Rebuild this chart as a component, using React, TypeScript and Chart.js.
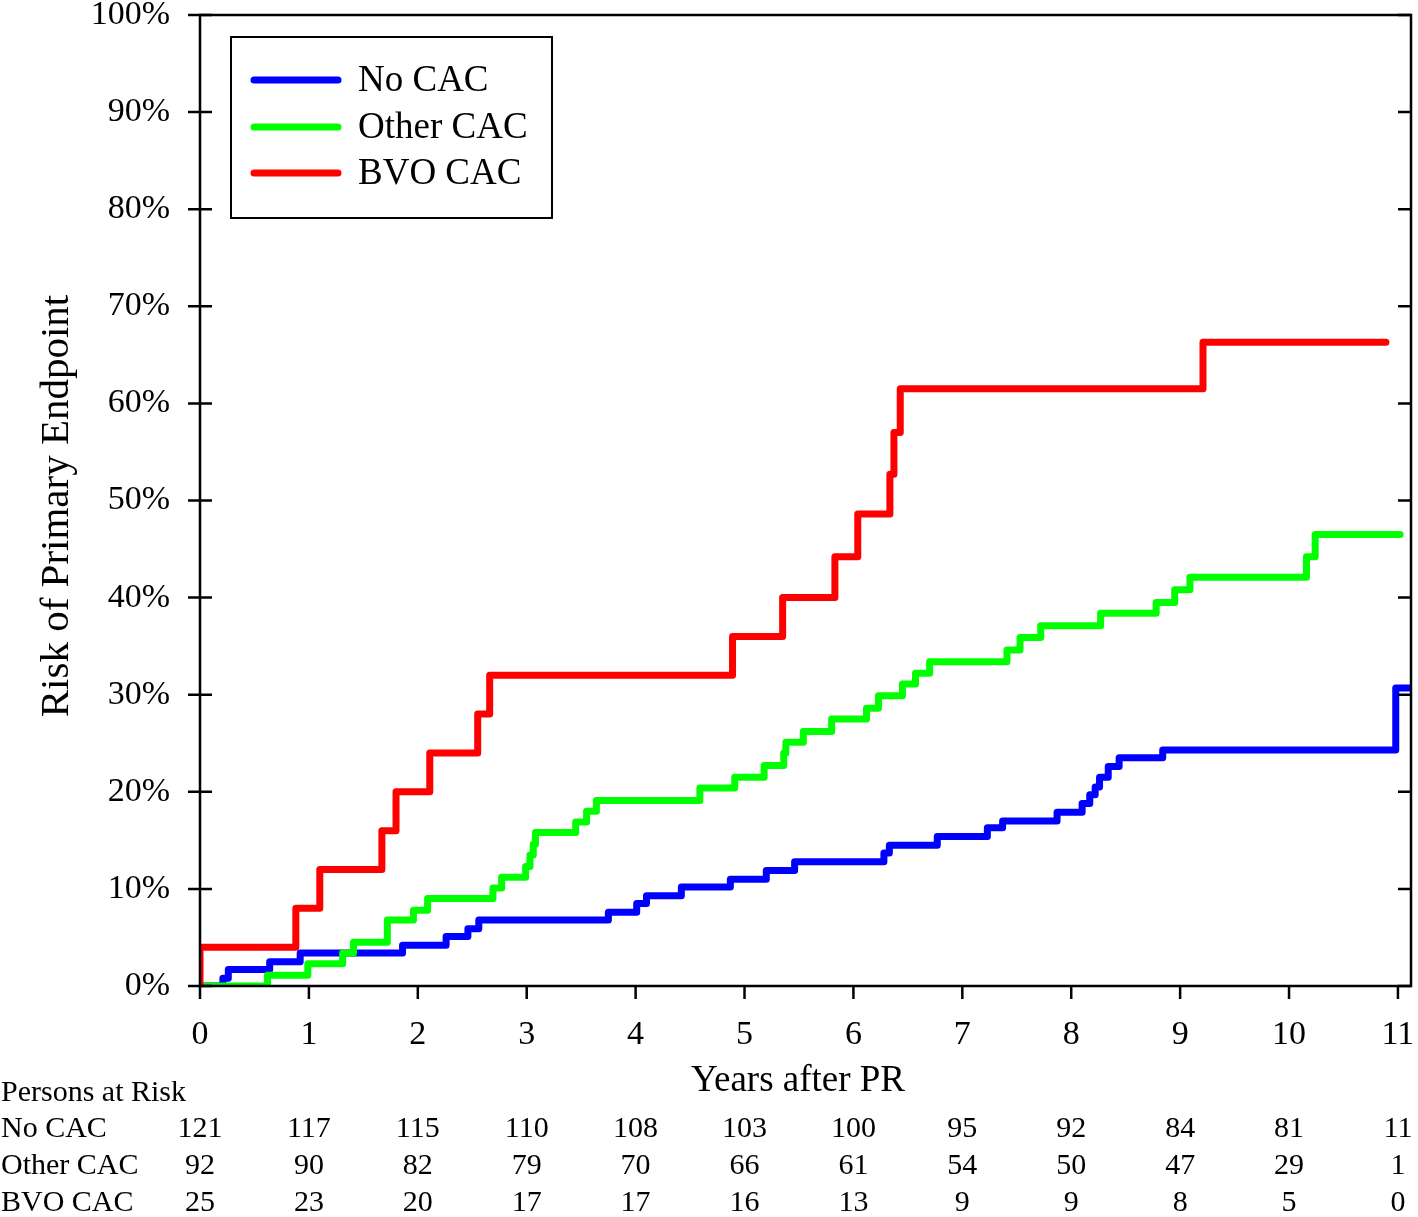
import React, { useEffect, useRef } from "react";
import { Chart, registerables } from "chart.js";

Chart.register(...registerables);

// ---- Data ----
const seriesNames = ["No CAC", "Other CAC", "BVO CAC"];
const seriesColors = ["#0000FF", "#00FF00", "#FF0000"];

const noCacTimes = [0, 0.21, 0.26, 0.64, 0.92, 1.86, 2.26, 2.46, 2.56, 3.75, 4.01, 4.1, 4.42, 4.87, 5.2, 5.46, 6.28, 6.33, 6.77, 7.23, 7.37, 7.87, 8.1, 8.17, 8.22, 8.26, 8.34, 8.44, 8.84, 10.98, 11.12];
const noCacRisk = [0, 0.8, 1.7, 2.5, 3.4, 4.2, 5.1, 5.9, 6.8, 7.6, 8.5, 9.3, 10.2, 11.0, 11.9, 12.8, 13.7, 14.5, 15.4, 16.3, 17.0, 17.9, 18.8, 19.7, 20.5, 21.5, 22.6, 23.5, 24.3, 30.7, 30.7];

const otherCacTimes = [0, 0.62, 0.99, 1.31, 1.41, 1.72, 1.96, 2.09, 2.69, 2.77, 2.99, 3.03, 3.06, 3.08, 3.45, 3.55, 3.64, 4.59, 4.91, 5.18, 5.36, 5.38, 5.54, 5.8, 6.12, 6.23, 6.45, 6.57, 6.7, 7.41, 7.53, 7.72, 8.27, 8.78, 8.95, 9.09, 10.16, 10.24, 11.02];
const otherCacRisk = [0, 1.1, 2.3, 3.4, 4.5, 6.8, 7.8, 9.0, 10.1, 11.2, 12.3, 13.5, 14.6, 15.8, 16.9, 18.0, 19.1, 20.4, 21.5, 22.7, 24.0, 25.1, 26.2, 27.5, 28.6, 29.9, 31.1, 32.2, 33.4, 34.6, 35.9, 37.1, 38.4, 39.5, 40.8, 42.1, 44.2, 46.5, 46.5];

const bvoCacTimes = [0, 0, 0.88, 1.1, 1.67, 1.8, 2.11, 2.55, 2.66, 4.89, 5.35, 5.83, 6.04, 6.335, 6.372, 6.43, 9.21, 10.89];
const bvoCacRisk = [0, 4, 8, 12, 16, 20, 24, 28, 32, 36, 40, 44.2, 48.6, 52.7, 57.0, 61.5, 66.3, 66.3];

const yearTicks = [0, 1, 2, 3, 4, 5, 6, 7, 8, 9, 10, 11];
const riskTicks = [0, 10, 20, 30, 40, 50, 60, 70, 80, 90, 100];
const atRiskNoCac = [121, 117, 115, 110, 108, 103, 100, 95, 92, 84, 81, 11];
const atRiskOtherCac = [92, 90, 82, 79, 70, 66, 61, 54, 50, 47, 29, 1];
const atRiskBvoCac = [25, 23, 20, 17, 17, 16, 13, 9, 9, 8, 5, 0];

const xTitle = "Years after PR";
const yTitle = "Risk of Primary Endpoint";
const tableTitle = "Persons at Risk";

const FONT = "'Liberation Serif', 'Times New Roman', serif";

function toPoints(t: number[], v: number[]) {
  return t.map((x, i) => ({ x, y: v[i] }));
}

const decorPlugin = {
  id: "decor",
  afterDraw(chart: any) {
    const ctx = chart.ctx;
    const xs = chart.scales.x;
    const ys = chart.scales.y;
    const ca = chart.chartArea;
    ctx.save();
    // frame
    ctx.strokeStyle = "#000";
    ctx.lineWidth = 2.5;
    ctx.beginPath();
    ctx.rect(ca.left, ca.top, ca.right - ca.left, ca.bottom - ca.top);
    ctx.stroke();
    // y ticks left (crossing) and right (inside)
    riskTicks.forEach((v) => {
      const py = ys.getPixelForValue(v);
      ctx.beginPath();
      ctx.moveTo(ca.left - 12, py);
      ctx.lineTo(ca.left + 12, py);
      ctx.moveTo(ca.right - 13, py);
      ctx.lineTo(ca.right, py);
      ctx.stroke();
    });
    // x ticks bottom (outside)
    yearTicks.forEach((v) => {
      const px = xs.getPixelForValue(v);
      ctx.beginPath();
      ctx.moveTo(px, ca.bottom);
      ctx.lineTo(px, ca.bottom + 13);
      ctx.stroke();
    });

    ctx.fillStyle = "#000";
    // x title
    ctx.font = `37px ${FONT}`;
    ctx.textAlign = "center";
    ctx.textBaseline = "middle";
    ctx.fillText(xTitle, 798, 1081);
    // y title
    ctx.save();
    ctx.translate(57, 506);
    ctx.rotate(-Math.PI / 2);
    ctx.font = `41px ${FONT}`;
    ctx.fillText(yTitle, 0, 0);
    ctx.restore();

    // risk table
    ctx.font = `30px ${FONT}`;
    ctx.textAlign = "left";
    ctx.fillText(tableTitle, 1, 1093);
    const rows = [atRiskNoCac, atRiskOtherCac, atRiskBvoCac];
    const rowY = [1129, 1166, 1203];
    rows.forEach((row, r) => {
      ctx.textAlign = "left";
      ctx.fillText(seriesNames[r], 1, rowY[r]);
      ctx.textAlign = "center";
      row.forEach((n, i) => {
        ctx.fillText(String(n), xs.getPixelForValue(yearTicks[i]), rowY[r]);
      });
    });

    // legend
    const lx = 231, ly = 37, lw = 321, lh = 181;
    ctx.lineWidth = 2;
    ctx.strokeRect(lx, ly, lw, lh);
    const legY = [80, 127, 173];
    chart.data.datasets.forEach((ds: any, i: number) => {
      ctx.strokeStyle = ds.borderColor;
      ctx.lineWidth = 7;
      ctx.lineCap = "round";
      ctx.beginPath();
      ctx.moveTo(254, legY[i]);
      ctx.lineTo(338, legY[i]);
      ctx.stroke();
      ctx.fillStyle = "#000";
      ctx.font = `37px ${FONT}`;
      ctx.textAlign = "left";
      ctx.textBaseline = "middle";
      ctx.fillText(ds.label, 358, legY[i] + 1);
    });
    ctx.restore();
  },
};

export default function App() {
  const ref = useRef<HTMLCanvasElement | null>(null);
  useEffect(() => {
    if (!ref.current) return;
    const series = [
      toPoints(noCacTimes, noCacRisk),
      toPoints(otherCacTimes, otherCacRisk),
      toPoints(bvoCacTimes, bvoCacRisk),
    ];
    const orders = [2, 1, 0];
    const chart = new Chart(ref.current, {
      type: "line",
      data: {
        datasets: series.map((d, i) => ({
          label: seriesNames[i],
          data: d,
          borderColor: seriesColors[i],
          backgroundColor: seriesColors[i],
          borderWidth: 7,
          pointRadius: 0,
          stepped: "before" as any,
          borderJoinStyle: "round" as any,
          borderCapStyle: "round" as any,
          fill: false,
          order: orders[i],
        })),
      },
      options: {
        animation: false,
        responsive: false,
        parsing: false as any,
        layout: { autoPadding: false, padding: { left: 0, top: 15, right: 7, bottom: 0 } } as any,
        plugins: { legend: { display: false }, tooltip: { enabled: false } },
        scales: {
          x: {
            type: "linear",
            min: 0,
            max: 11.12,
            afterBuildTicks: (s: any) => {
              s.ticks = yearTicks.map((v) => ({ value: v }));
            },
            afterFit: (s: any) => {
              s.height = 231;
              s.paddingLeft = 0;
              s.paddingRight = 0;
            },
            grid: { display: false, drawTicks: false },
            border: { display: false },
            ticks: {
              color: "#000",
              font: { family: FONT, size: 34 },
              padding: 29,
              maxRotation: 0,
              autoSkip: false,
            },
          },
          y: {
            type: "linear",
            min: 0,
            max: 100,
            afterBuildTicks: (s: any) => {
              s.ticks = riskTicks.map((v) => ({ value: v }));
            },
            afterFit: (s: any) => {
              s.width = 200;
              s.paddingTop = 0;
              s.paddingBottom = 0;
            },
            grid: { display: false, drawTicks: false },
            border: { display: false },
            ticks: {
              color: "#000",
              font: { family: FONT, size: 34 },
              padding: 30,
              callback: (v: any) => `${v}%`,
            },
          },
        },
      },
      plugins: [decorPlugin],
    });
    return () => chart.destroy();
  }, []);
  return (
    <div style={{ position: "absolute", left: 0, top: 0, width: 1418, height: 1217, background: "#fff" }}>
      <canvas ref={ref} width={1418} height={1217} style={{ display: "block" }} />
    </div>
  );
}
